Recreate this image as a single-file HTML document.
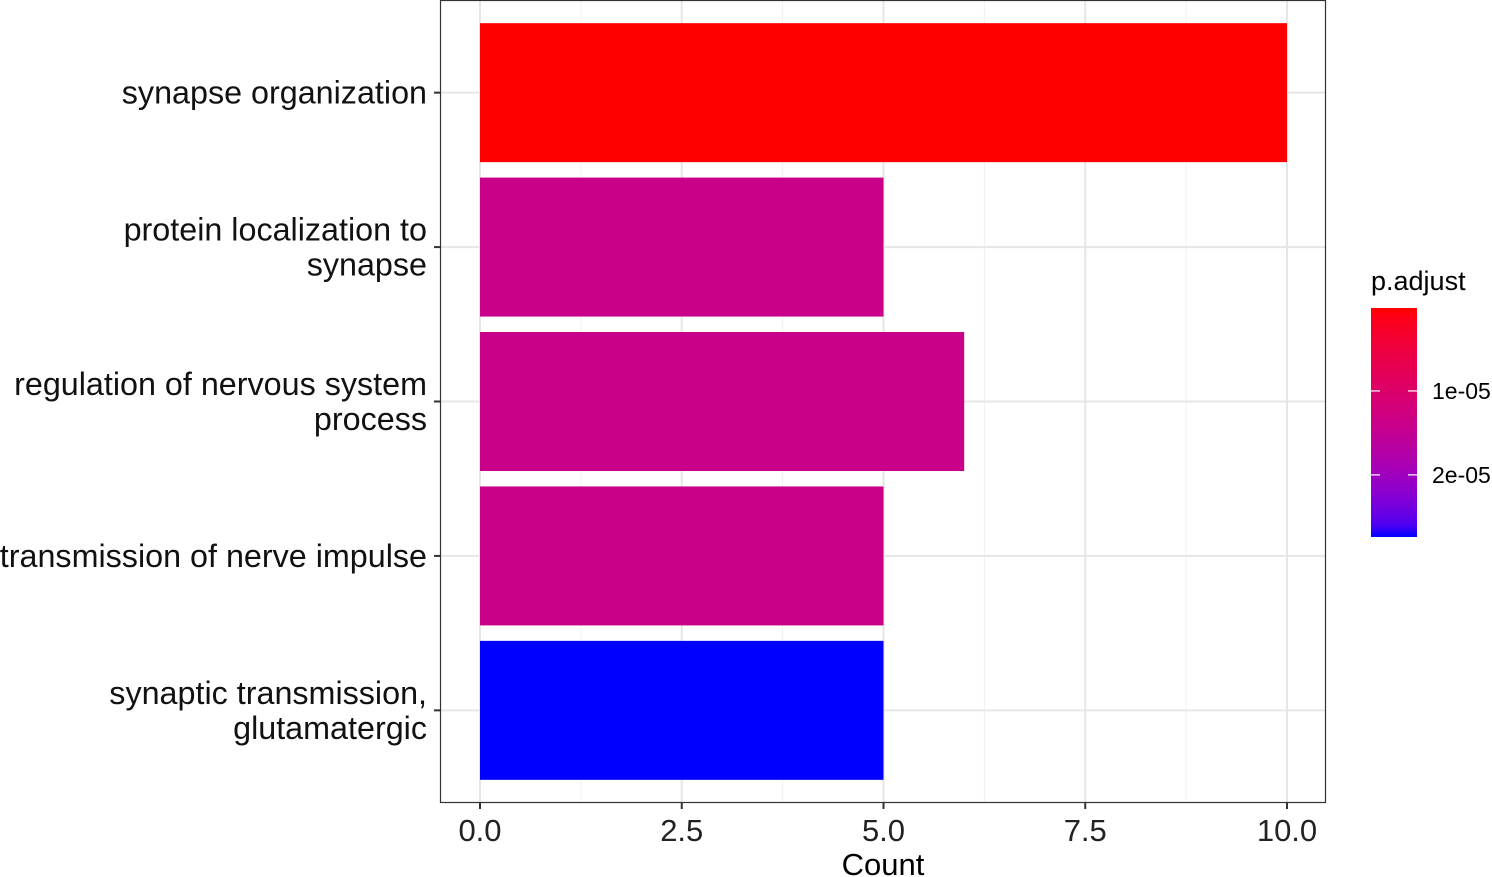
<!DOCTYPE html>
<html><head><meta charset="utf-8"><style>
html,body{margin:0;padding:0;background:#fff;}
svg{display:block;font-family:"Liberation Sans",sans-serif;}
</style></head><body>
<svg id="chart" width="1492" height="877" viewBox="0 0 1492 877" xmlns="http://www.w3.org/2000/svg"></svg>
<script>
const categories = [
  ["synapse organization"],
  ["protein localization to","synapse"],
  ["regulation of nervous system","process"],
  ["transmission of nerve impulse"],
  ["synaptic transmission,","glutamatergic"]
];
const counts = [10, 5, 6, 5, 5];
const pAdjust = [1.2e-7, 1.4e-5, 1.4e-5, 1.4e-5, 2.74e-5];
const xTicks = [0, 2.5, 5, 7.5, 10];
const xTickLabels = ["0.0","2.5","5.0","7.5","10.0"];
const legendTicks = [1e-5, 2e-5];
const legendTickLabels = ["1e-05","2e-05"];
const pMin = 1.2e-7, pMax = 2.74e-5;

const NS = "http://www.w3.org/2000/svg";
const svg = document.getElementById("chart");
function el(tag, attrs, parent){const e=document.createElementNS(NS,tag);for(const k in attrs)e.setAttribute(k,attrs[k]);(parent||svg).appendChild(e);return e;}

const P = {l:440, r:1326, t:0, b:803};
const x = v => 480 + v*(1287-480)/10;
const band = (P.b-P.t)/(categories.length-1+1.2);
const yc = i => P.t + band*(i+0.6);
const barH = band*0.9;

function toLin(c){c/=255;return c<=0.04045?c/12.92:Math.pow((c+0.055)/1.055,2.4);}
function fromLin(c){c=c<=0.0031308?12.92*c:1.055*Math.pow(c,1/2.4)-0.055;return Math.max(0,Math.min(255,Math.round(c*255)));}
function rgb2lab(r,g,b){r=toLin(r);g=toLin(g);b=toLin(b);
 let X=(0.4124*r+0.3576*g+0.1805*b)/0.95047,Y=(0.2126*r+0.7152*g+0.0722*b),Z=(0.0193*r+0.1192*g+0.9505*b)/1.08883;
 const f=t=>t>0.008856?Math.cbrt(t):7.787*t+16/116;
 X=f(X);Y=f(Y);Z=f(Z);return [116*Y-16,500*(X-Y),200*(Y-Z)];}
function lab2rgb(L,a,b){let Y=(L+16)/116,X=a/500+Y,Z=Y-b/200;
 const fi=t=>t*t*t>0.008856?t*t*t:(t-16/116)/7.787;
 X=fi(X)*0.95047;Y=fi(Y);Z=fi(Z)*1.08883;
 const r=3.2406*X-1.5372*Y-0.4986*Z,g=-0.9689*X+1.8758*Y+0.0415*Z,bb=0.0557*X-0.2040*Y+1.0570*Z;
 return `rgb(${fromLin(r)},${fromLin(g)},${fromLin(bb)})`;}
const labR=rgb2lab(255,0,0), labB=rgb2lab(0,0,255);
function colorAt(t){t=Math.max(0,Math.min(1,t));return lab2rgb(labR[0]+(labB[0]-labR[0])*t,labR[1]+(labB[1]-labR[1])*t,labR[2]+(labB[2]-labR[2])*t);}
const pColor = p => colorAt((p-pMin)/(pMax-pMin));

el("rect",{x:P.l,y:P.t,width:P.r-P.l,height:P.b-P.t,fill:"#fff",});
for(let i=0;i<xTicks.length-1;i++){const m=(xTicks[i]+xTicks[i+1])/2;
 const g=el("line",{x1:x(m),x2:x(m),y1:P.t,y2:P.b,stroke:"#f0f0f0","stroke-width":1});
 
 }
xTicks.forEach(v=>{const g=el("line",{x1:x(v),x2:x(v),y1:P.t,y2:P.b,stroke:"#e6e6e6","stroke-width":2});
 
 });
categories.forEach((c,i)=>{const g=el("line",{x1:P.l,x2:P.r,y1:yc(i),y2:yc(i),stroke:"#e6e6e6","stroke-width":2});
 
 });
categories.forEach((c,i)=>{
 const r=el("rect",{x:x(0),y:yc(i)-barH/2,width:x(counts[i])-x(0),height:barH,fill:pColor(pAdjust[i])});
 
 
});
el("rect",{x:P.l+0.5,y:P.t+0.5,width:P.r-P.l-1,height:P.b-P.t-1,fill:"none",stroke:"#333","stroke-width":1.2,});
categories.forEach((c,i)=>{
 const tk=el("line",{x1:P.l-6,x2:P.l,y1:yc(i),y2:yc(i),stroke:"#333","stroke-width":2});
 
 
 const n=c.length;
 c.forEach((line,j)=>{
  const t=el("text",{x:P.l-13,y:yc(i)+11+(j-(n-1)/2)*35,"text-anchor":"end","font-size":32.3,fill:"#111"});
  t.textContent=line;
  
  
 });
});
xTicks.forEach((v,i)=>{
 const tk=el("line",{x1:x(v),x2:x(v),y1:P.b,y2:P.b+6,stroke:"#333","stroke-width":2});
 
 
 const t=el("text",{x:x(v),y:P.b+38,"text-anchor":"middle","font-size":31,fill:"#222"});
 t.textContent=xTickLabels[i];
 
 
});
el("text",{x:(P.l+P.r)/2,y:875,"text-anchor":"middle","font-size":31,fill:"#000",}).textContent="Count";

const L={x:1371,w:46,t:308,b:537};
const defs=el("defs",{});
const grad=el("linearGradient",{id:"pg",x1:0,y1:0,x2:0,y2:1},defs);
for(let k=0;k<=20;k++){el("stop",{offset:k/20,"stop-color":colorAt(k/20)},grad);}
el("text",{x:1371,y:290,"font-size":27,fill:"#000",}).textContent="p.adjust";
el("rect",{x:L.x,y:L.t,width:L.w,height:L.b-L.t,fill:"url(#pg)",});
const ly = p => L.t+(p-pMin)/(pMax-pMin)*(L.b-L.t);
legendTicks.forEach((p,i)=>{
 const a=el("line",{x1:L.x,x2:L.x+9,y1:ly(p),y2:ly(p),stroke:"#fff","stroke-width":1.2});
 
 
 const b=el("line",{x1:L.x+L.w-9,x2:L.x+L.w,y1:ly(p),y2:ly(p),stroke:"#fff","stroke-width":1.2});
 
 
 const t=el("text",{x:1432,y:ly(p)+8,"font-size":23,fill:"#000"});
 t.textContent=legendTickLabels[i];
 
 
});
</script>
</body></html>
